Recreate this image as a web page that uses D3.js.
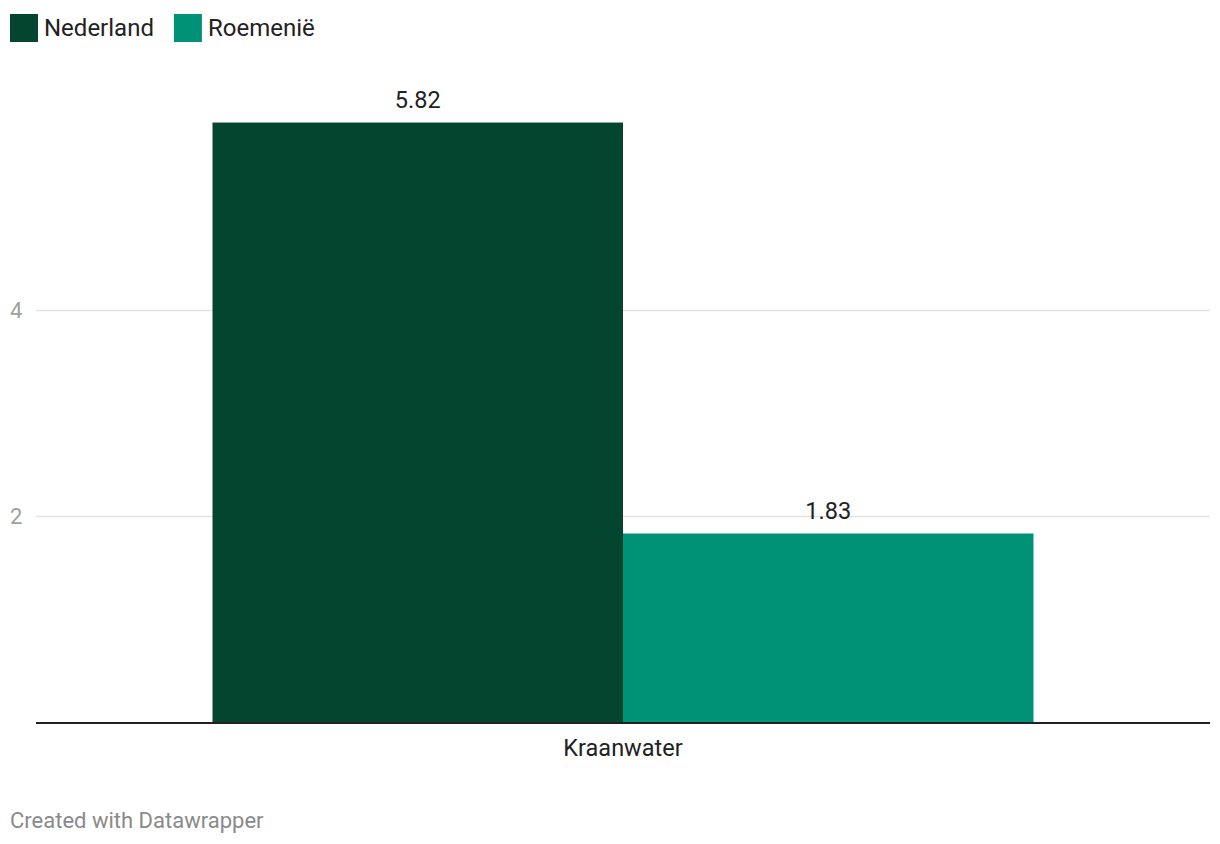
<!DOCTYPE html>
<html>
<head>
<meta charset="utf-8">
<script src="https://cdn.jsdelivr.net/npm/d3@7"></script>
<style>
  body { margin: 0; background: #fff; }
  svg text { font-family: Roboto, "Noto Sans", sans-serif; }
</style>
</head>
<body>
<div id="vis"></div>
<script>
// chart data
const categories = ["Kraanwater"];
const seriesNames = ["Nederland", "Roemenië"];
const seriesValues = [5.82, 1.83];
const seriesColors = ["#03452f", "#009276"];
const yTicks = [2, 4];

const width = 1220, height = 844;
const margin = {top: 60, right: 10, bottom: 122, left: 36};

const svg = d3.select("#vis").append("svg")
  .attr("width", width)
  .attr("height", height);

// legend
const legend = svg.append("g").attr("class", "legend");
let lx = 10;
seriesNames.forEach(function(name, i) {
  const item = legend.append("g").attr("transform", `translate(${lx},14)`);
  item.append("rect").attr("width", 28).attr("height", 28).attr("fill", seriesColors[i]);
  const t = item.append("text")
    .attr("x", 34).attr("y", 22)
    .style("font-size", "24px")
    .attr("fill", "#222")
    .text(name);
  lx += 34 + t.node().getComputedTextLength() + 20;
});

const x0 = d3.scaleBand()
  .domain(categories)
  .range([margin.left, width - margin.right])
  .paddingInner(0)
  .paddingOuter(0.215);

const x1 = d3.scaleBand()
  .domain(seriesNames)
  .range([0, x0.bandwidth()])
  .padding(0);

const y = d3.scaleLinear()
  .domain([0, 6.05])
  .range([height - margin.bottom, height - margin.bottom - 6.05 * 103]);

// grid
const grid = svg.append("g")
  .attr("transform", `translate(${margin.left},0)`)
  .call(d3.axisLeft(y).tickValues(yTicks).tickSize(-(width - margin.left - margin.right)).tickFormat(""));
grid.select(".domain").remove();
grid.selectAll(".tick line").attr("stroke", "#e2e2e2").attr("stroke-width", 1.5);

// y tick labels
svg.append("g").selectAll("text")
  .data(yTicks)
  .join("text")
  .attr("x", 10)
  .attr("y", d => y(d) + 8)
  .style("font-size", "22px")
  .attr("fill", "#a0a0a0")
  .text(d => d);

// bars
const group = svg.append("g").selectAll("g")
  .data(categories)
  .join("g")
  .attr("transform", d => `translate(${x0(d)},0)`);

group.selectAll("rect")
  .data(() => seriesNames.map((n, i) => ({name: n, value: seriesValues[i], color: seriesColors[i]})))
  .join("rect")
  .attr("x", d => x1(d.name))
  .attr("y", d => y(d.value))
  .attr("width", x1.bandwidth())
  .attr("height", d => y(0) - y(d.value))
  .attr("fill", d => d.color);

group.selectAll("text.val")
  .data(() => seriesNames.map((n, i) => ({name: n, value: seriesValues[i]})))
  .join("text")
  .attr("class", "val")
  .attr("x", d => x1(d.name) + x1.bandwidth() / 2)
  .attr("y", d => y(d.value) - 15)
  .attr("text-anchor", "middle")
  .style("font-size", "23.5px")
  .attr("fill", "#222")
  .text(d => d.value.toFixed(2));

// baseline
svg.append("line")
  .attr("x1", margin.left).attr("x2", width - margin.right)
  .attr("y1", y(0) + 1).attr("y2", y(0) + 1)
  .attr("stroke", "#222").attr("stroke-width", 2);

// x axis labels
svg.append("g").selectAll("text")
  .data(categories)
  .join("text")
  .attr("x", d => x0(d) + x0.bandwidth() / 2)
  .attr("y", y(0) + 34)
  .attr("text-anchor", "middle")
  .style("font-size", "23.5px")
  .attr("fill", "#222")
  .text(d => d);

// footer
svg.append("text")
  .attr("x", 10).attr("y", 828)
  .style("font-size", "22px")
  .attr("fill", "#8a8a8a")
  .text("Created with Datawrapper");
</script>
</body>
</html>
